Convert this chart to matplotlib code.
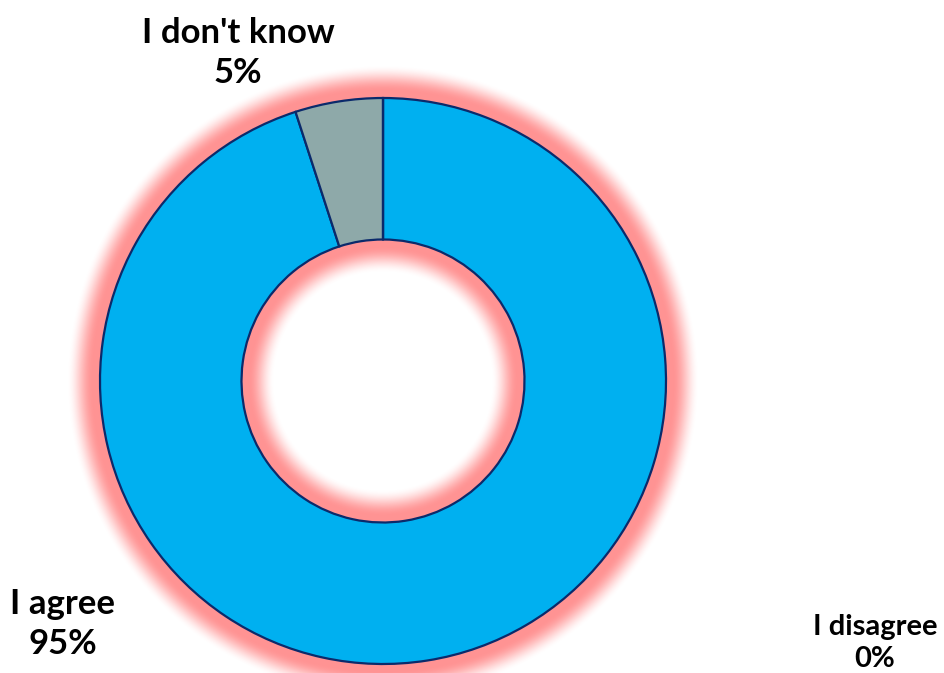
import numpy as np
import matplotlib.pyplot as plt

# survey answers
labels = ["I agree", "I don't know", "I disagree"]
shares = [95, 5, 0]
colors = ["#00B0F0", "#8EA9A9", "#A5A5A5"]

W, H = 945, 673
cx, cy = 383, 673 - 381
r_out, r_in = 283, 141.5

fig = plt.figure(figsize=(W / 100, H / 100), dpi=100)
ax = fig.add_axes([0, 0, 1, 1])

# soft red glow around both edges of the ring
yy, xx = np.mgrid[0:H, 0:W] + 0.5
d = np.hypot(xx - cx, yy - cy)
dist = np.where(d >= r_out, d - r_out, np.where(d <= r_in, r_in - d, 0))
t = np.clip((dist - 7) / 26.0, 0, 1)
a = 1 - t * t * (3 - 2 * t)
img = np.zeros((H, W, 4))
img[..., 0] = 1.0
img[..., 1] = 0.58
img[..., 2] = 0.58
img[..., 3] = a
ax.imshow(img, extent=(0, W, 0, H), origin="lower", zorder=0)

ax.pie(shares, colors=colors, startangle=90, counterclock=False,
       center=(cx, cy), radius=r_out, frame=True,
       wedgeprops=dict(width=r_out - r_in, edgecolor="#0B2A6B", linewidth=1.6))
ax.set_xlim(0, W)
ax.set_ylim(0, H)
ax.set_aspect("equal")
ax.axis("off")

font = dict(family=["Lato", "DejaVu Sans"], fontweight="bold",
            ha="center", va="center", linespacing=1.3)
pos = {"I agree": (63, 673 - 624, 25), "I don't know": (238, 673 - 53, 25),
       "I disagree": (875, 673 - 643, 21)}
for lab, val in zip(labels, shares):
    x, y, fs = pos[lab]
    ax.text(x, y, f"{lab}\n{val}%", fontsize=fs, zorder=5, **font)

fig.savefig("out.png", dpi=100)
